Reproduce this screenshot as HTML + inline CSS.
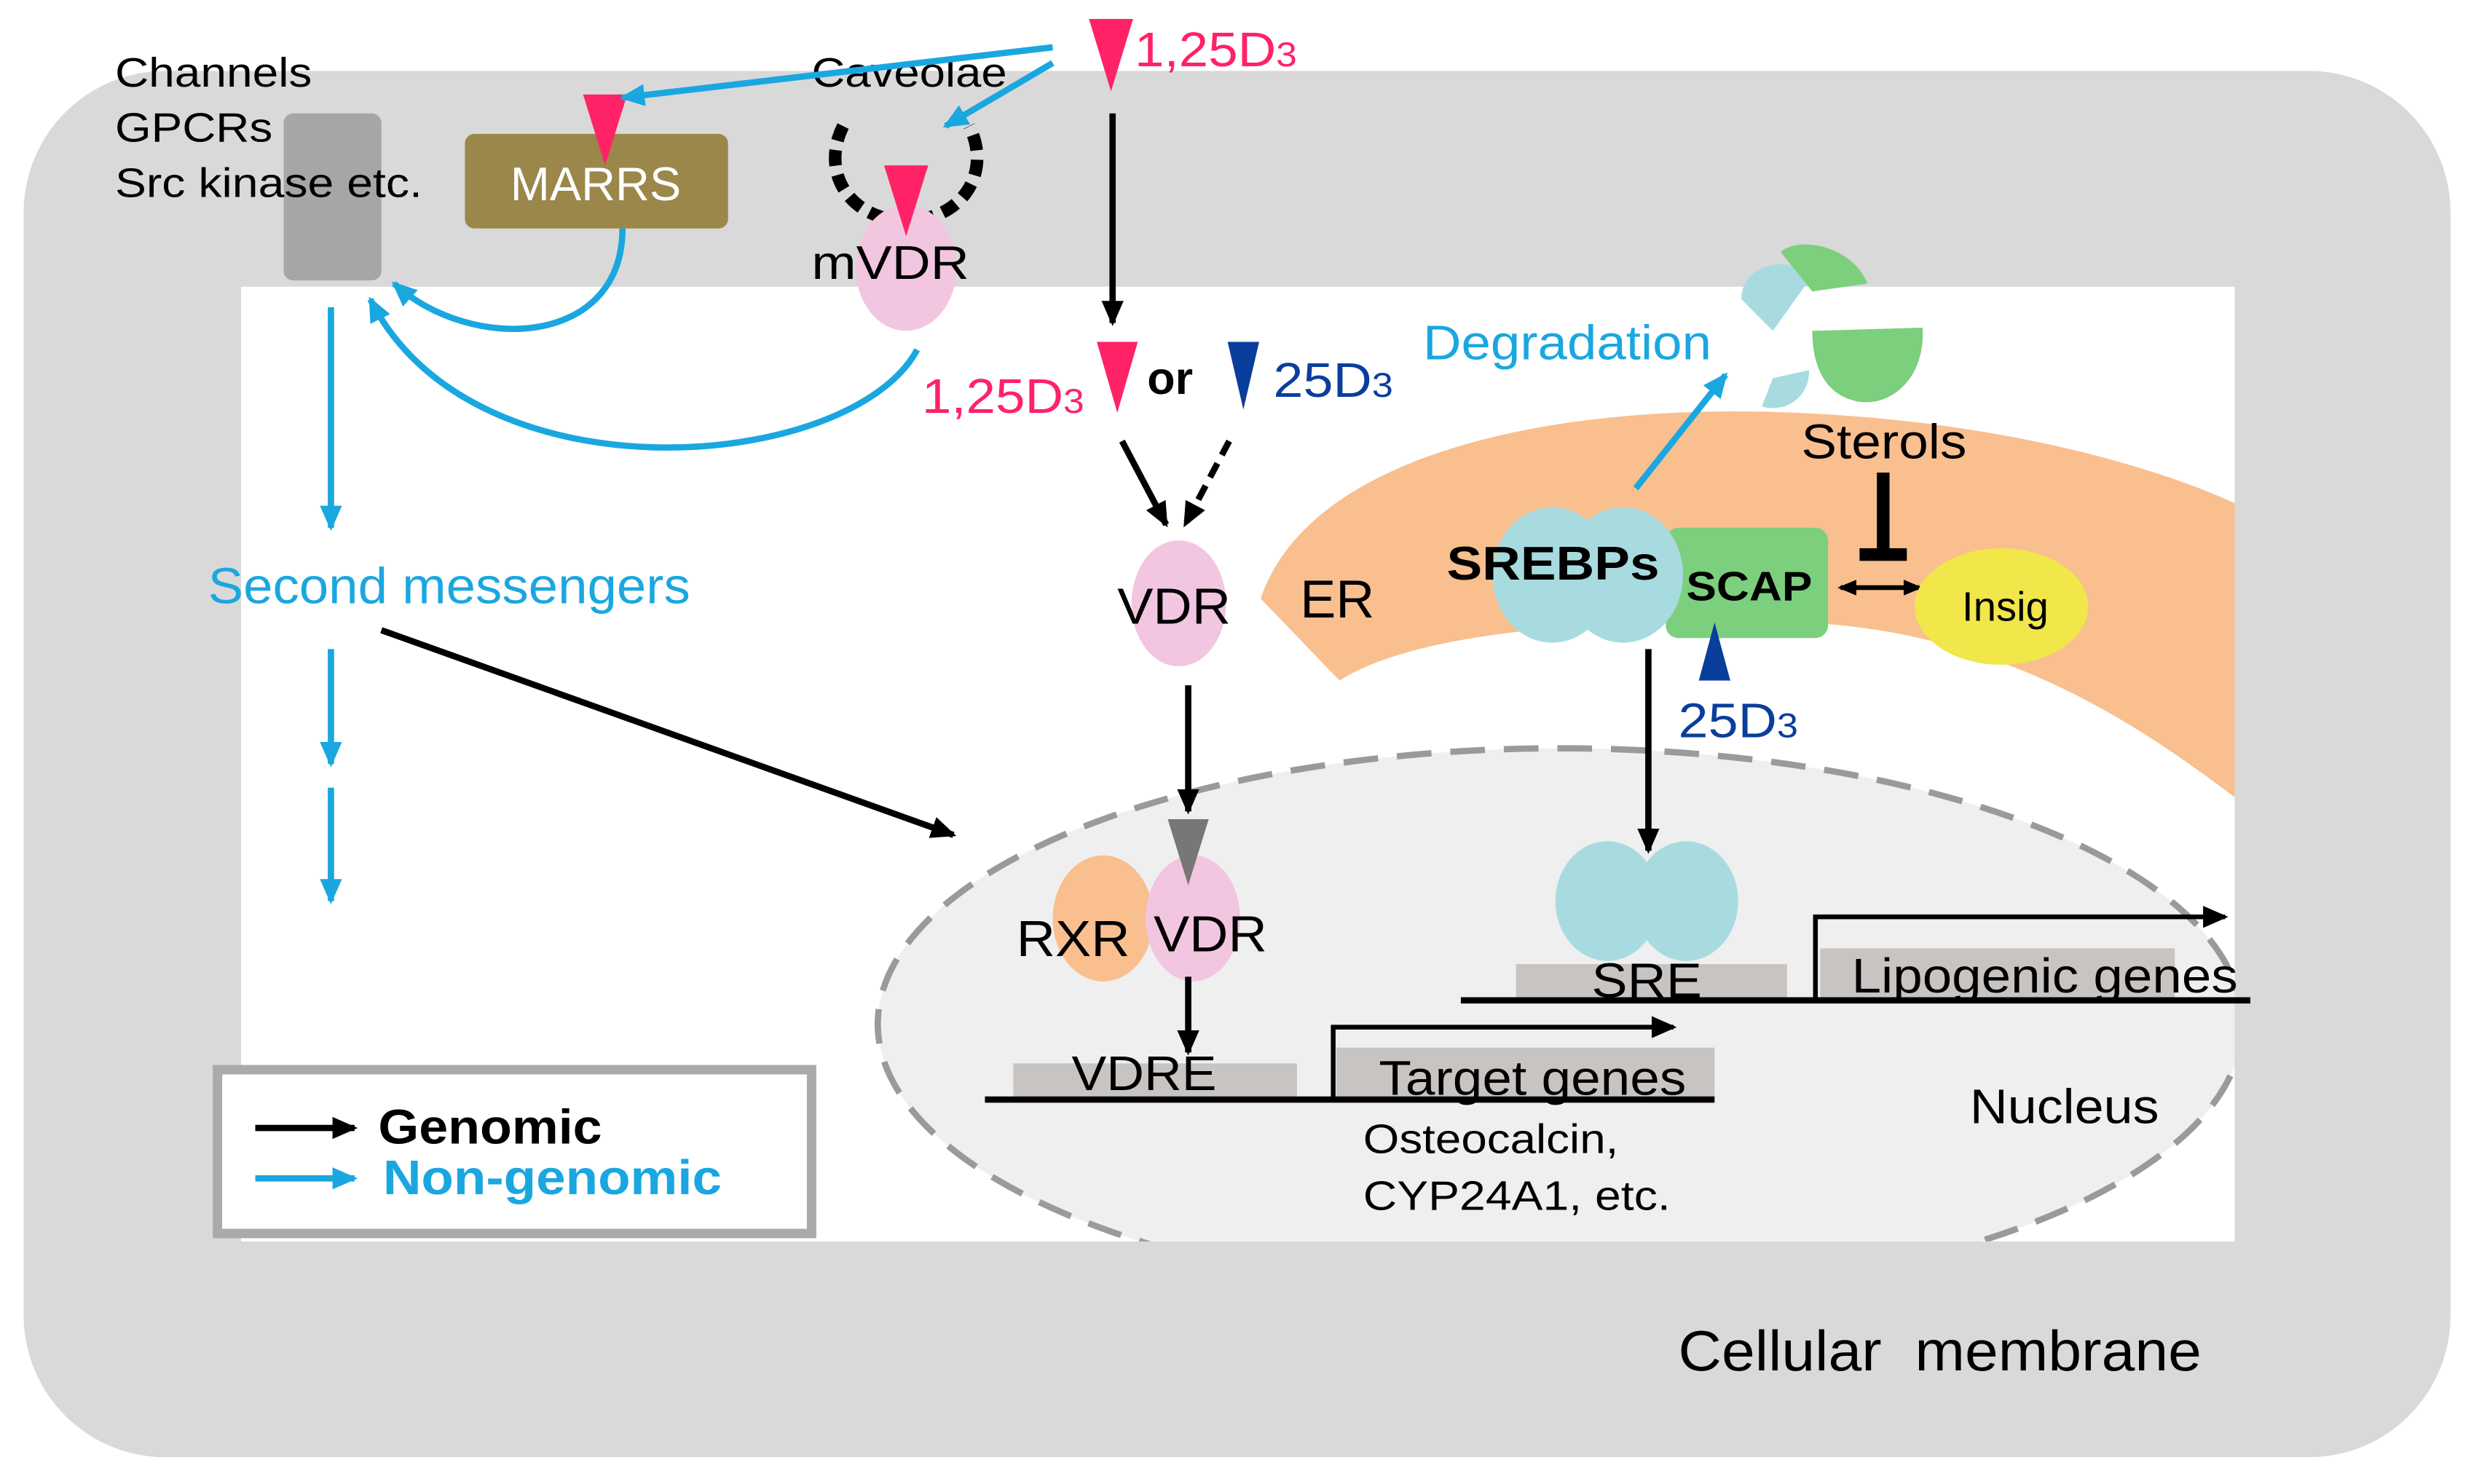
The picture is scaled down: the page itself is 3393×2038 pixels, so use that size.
<!DOCTYPE html>
<html><head><meta charset="utf-8"><style>
html,body{margin:0;padding:0;background:#fff;}
svg{display:block;}
text{font-family:"Liberation Sans",Arial,sans-serif;}
</style></head><body>
<svg width="3393" height="2038" viewBox="0 0 1568 942" preserveAspectRatio="none" xmlns="http://www.w3.org/2000/svg">
<defs>
<marker id="abk" markerWidth="16" markerHeight="14" refX="14" refY="7" orient="auto" markerUnits="userSpaceOnUse"><path d="M0,0 L16,7 L0,14 z" fill="#000"/></marker>
<marker id="as" markerWidth="12" markerHeight="10" refX="10" refY="5" orient="auto" markerUnits="userSpaceOnUse"><path d="M0,0 L12,5 L0,10 z" fill="#000"/></marker>
<marker id="ass" markerWidth="12" markerHeight="10" refX="2" refY="5" orient="auto" markerUnits="userSpaceOnUse"><path d="M12,0 L0,5 L12,10 z" fill="#000"/></marker>
<marker id="acy" markerWidth="16" markerHeight="14" refX="14" refY="7" orient="auto" markerUnits="userSpaceOnUse"><path d="M0,0 L16,7 L0,14 z" fill="#1aa7e0"/></marker>
<clipPath id="inner"><rect x="153" y="182" width="1265" height="606"/></clipPath>
</defs>
<rect width="1568" height="942" fill="#fff"/>
<rect x="15" y="45" width="1540" height="880" rx="90" fill="#d9d9d9"/>
<rect x="153" y="182" width="1265" height="606" fill="#fff"/>
<g clip-path="url(#inner)">
<path d="M800,380 C830,290 980,255 1140,262 C1280,268 1380,300 1430,325 L1430,515 C1370,470 1280,400 1140,395 C1020,392 900,400 850,432 Z" fill="#f9bf8f"/>
<ellipse cx="990" cy="650" rx="433" ry="175" fill="#efefef" stroke="#9a9a9a" stroke-width="4" stroke-dasharray="22,12"/>
</g>
<rect x="180" y="72" width="62" height="106" rx="6" fill="#a6a6a6"/>
<text x="73" y="55" font-size="26" textLength="125" lengthAdjust="spacingAndGlyphs">Channels</text>
<text x="73" y="90" font-size="26" textLength="100" lengthAdjust="spacingAndGlyphs">GPCRs</text>
<text x="73" y="125" font-size="26" textLength="195" lengthAdjust="spacingAndGlyphs">Src kinase etc.</text>
<rect x="295" y="85" width="167" height="60" rx="6" fill="#9b874a"/>
<text x="378" y="127" font-size="30" fill="#fff" text-anchor="middle">MARRS</text>
<path d="M535,80 C520,110 540,140 575,140 C610,140 630,110 615,80" fill="none" stroke="#000" stroke-width="8" stroke-dasharray="10,6"/>
<text x="515" y="55" font-size="26" textLength="124" lengthAdjust="spacingAndGlyphs">Caveolae</text>
<ellipse cx="575" cy="170" rx="32" ry="40" fill="#f2c6e0"/>
<text x="515" y="177" font-size="30" textLength="100" lengthAdjust="spacingAndGlyphs">mVDR</text>
<path d="M370,60 L398,60 L384,105 Z" fill="#ff2266"/>
<path d="M561,105 L589,105 L575,150 Z" fill="#ff2266"/>
<path d="M691,12 L719,12 L705,58 Z" fill="#ff2266"/>
<text x="720" y="42" font-size="31" fill="#ff2266" textLength="103" lengthAdjust="spacingAndGlyphs">1,25D<tspan font-size="22">3</tspan></text>
<line x1="668" y1="30" x2="395" y2="62" stroke="#1aa7e0" stroke-width="4" marker-end="url(#acy)"/>
<line x1="668" y1="40" x2="600" y2="80" stroke="#1aa7e0" stroke-width="4" marker-end="url(#acy)"/>
<path d="M395,145 C395,220 300,225 250,180" fill="none" stroke="#1aa7e0" stroke-width="4" marker-end="url(#acy)"/>
<path d="M582,222 C540,300 300,320 235,190" fill="none" stroke="#1aa7e0" stroke-width="4" marker-end="url(#acy)"/>
<line x1="210" y1="195" x2="210" y2="335" stroke="#1aa7e0" stroke-width="4" marker-end="url(#acy)"/>
<line x1="210" y1="412" x2="210" y2="485" stroke="#1aa7e0" stroke-width="4" marker-end="url(#acy)"/>
<line x1="210" y1="500" x2="210" y2="572" stroke="#1aa7e0" stroke-width="4" marker-end="url(#acy)"/>
<text x="132" y="383" font-size="32" fill="#1aa7e0" textLength="306" lengthAdjust="spacingAndGlyphs">Second messengers</text>
<line x1="242" y1="400" x2="605" y2="530" stroke="#000" stroke-width="4" marker-end="url(#abk)"/>
<line x1="706" y1="72" x2="706" y2="205" stroke="#000" stroke-width="4" marker-end="url(#abk)"/>
<path d="M696,217 L722,217 L709,262 Z" fill="#ff2266"/>
<text x="585" y="262" font-size="31" fill="#ff2266" textLength="103" lengthAdjust="spacingAndGlyphs">1,25D<tspan font-size="22">3</tspan></text>
<text x="728" y="250" font-size="29" font-weight="bold">or</text>
<path d="M779,217 L799,217 L789,260 Z" fill="#0a3e9c"/>
<text x="808" y="252" font-size="31" fill="#0a3e9c" textLength="76" lengthAdjust="spacingAndGlyphs">25D<tspan font-size="22">3</tspan></text>
<line x1="712" y1="280" x2="740" y2="333" stroke="#000" stroke-width="4" marker-end="url(#abk)"/>
<line x1="780" y1="280" x2="752" y2="333" stroke="#000" stroke-width="4" stroke-dasharray="10,6" marker-end="url(#abk)"/>
<ellipse cx="748" cy="383" rx="30" ry="40" fill="#f2c6e0"/>
<text x="709" y="396" font-size="32" textLength="72" lengthAdjust="spacingAndGlyphs">VDR</text>
<text x="825" y="392" font-size="34">ER</text>
<line x1="754" y1="435" x2="754" y2="515" stroke="#000" stroke-width="4" marker-end="url(#abk)"/>
<ellipse cx="700" cy="583" rx="32" ry="40" fill="#f9bf8f"/>
<ellipse cx="757" cy="583" rx="30" ry="40" fill="#f2c6e0"/>
<path d="M741,520 L767,520 L754,562 Z" fill="#777"/>
<text x="645" y="607" font-size="32" textLength="72" lengthAdjust="spacingAndGlyphs">RXR</text>
<text x="732" y="604" font-size="32" textLength="72" lengthAdjust="spacingAndGlyphs">VDR</text>
<line x1="754" y1="620" x2="754" y2="668" stroke="#000" stroke-width="4" marker-end="url(#abk)"/>
<rect x="643" y="675" width="180" height="22" fill="#c8c4c2"/>
<rect x="848" y="665" width="240" height="32" fill="#c8c4c2"/>
<text x="680" y="692" font-size="31" textLength="92" lengthAdjust="spacingAndGlyphs">VDRE</text>
<text x="875" y="695" font-size="31" textLength="195" lengthAdjust="spacingAndGlyphs">Target genes</text>
<line x1="625" y1="698" x2="1088" y2="698" stroke="#000" stroke-width="4"/>
<path d="M846,697 L846,652 L1062,652" fill="none" stroke="#000" stroke-width="3" marker-end="url(#abk)"/>
<text x="865" y="732" font-size="26" textLength="162" lengthAdjust="spacingAndGlyphs">Osteocalcin,</text>
<text x="865" y="768" font-size="26" textLength="195" lengthAdjust="spacingAndGlyphs">CYP24A1, etc.</text>
<text x="1250" y="713" font-size="31" textLength="120" lengthAdjust="spacingAndGlyphs">Nucleus</text>
<text x="903" y="228" font-size="31" fill="#1aa7e0" textLength="183" lengthAdjust="spacingAndGlyphs">Degradation</text>
<line x1="1038" y1="310" x2="1095" y2="238" stroke="#1aa7e0" stroke-width="4" marker-end="url(#acy)"/>
<path d="M1105,190 C1105,170 1130,160 1150,175 L1125,210 Z" fill="#a8dbe0"/>
<path d="M1130,160 C1140,150 1175,155 1185,180 L1150,185 Z" fill="#7ccf7c"/>
<path d="M1150,210 L1220,208 C1222,240 1200,258 1180,255 C1160,252 1150,235 1150,210 Z" fill="#7ccf7c"/>
<path d="M1125,240 L1148,235 C1148,255 1130,262 1118,258 Z" fill="#a8dbe0"/>
<text x="1143" y="291" font-size="31" textLength="105" lengthAdjust="spacingAndGlyphs">Sterols</text>
<line x1="1195" y1="300" x2="1195" y2="350" stroke="#000" stroke-width="8"/>
<line x1="1180" y1="352" x2="1210" y2="352" stroke="#000" stroke-width="8"/>
<rect x="1057" y="335" width="103" height="70" rx="8" fill="#7ccf7c"/>
<ellipse cx="985" cy="365" rx="38" ry="43" fill="#a8dbe0"/>
<ellipse cx="1030" cy="365" rx="38" ry="43" fill="#a8dbe0"/>
<text x="918" y="368" font-size="30" font-weight="bold" textLength="135" lengthAdjust="spacingAndGlyphs">SREBPs</text>
<text x="1070" y="381" font-size="26" font-weight="bold" textLength="80" lengthAdjust="spacingAndGlyphs">SCAP</text>
<line x1="1168" y1="373" x2="1218" y2="373" stroke="#000" stroke-width="3" marker-end="url(#as)" marker-start="url(#ass)"/>
<ellipse cx="1270" cy="385" rx="55" ry="37" fill="#f1e64a"/>
<text x="1245" y="394" font-size="26">Insig</text>
<path d="M1078,432 L1098,432 L1088,395 Z" fill="#0a3e9c"/>
<text x="1065" y="468" font-size="31" fill="#0a3e9c" textLength="76" lengthAdjust="spacingAndGlyphs">25D<tspan font-size="22">3</tspan></text>
<line x1="1046" y1="412" x2="1046" y2="540" stroke="#000" stroke-width="4" marker-end="url(#abk)"/>
<ellipse cx="1020" cy="572" rx="33" ry="38" fill="#a8dbe0"/>
<ellipse cx="1070" cy="572" rx="33" ry="38" fill="#a8dbe0"/>
<rect x="962" y="612" width="172" height="22" fill="#c8c4c2"/>
<rect x="1155" y="602" width="225" height="32" fill="#c8c4c2"/>
<text x="1010" y="633" font-size="31" textLength="70" lengthAdjust="spacingAndGlyphs">SRE</text>
<text x="1175" y="630" font-size="31" textLength="245" lengthAdjust="spacingAndGlyphs">Lipogenic genes</text>
<line x1="927" y1="635" x2="1428" y2="635" stroke="#000" stroke-width="4"/>
<path d="M1152,634 L1152,582 L1412,582" fill="none" stroke="#000" stroke-width="3" marker-end="url(#abk)"/>
<rect x="138" y="679" width="377" height="104" fill="#fff" stroke="#aaa" stroke-width="6"/>
<line x1="162" y1="716" x2="225" y2="716" stroke="#000" stroke-width="4" marker-end="url(#abk)"/>
<line x1="162" y1="748" x2="225" y2="748" stroke="#1aa7e0" stroke-width="4" marker-end="url(#acy)"/>
<text x="240" y="726" font-size="31" font-weight="bold" textLength="142" lengthAdjust="spacingAndGlyphs">Genomic</text>
<text x="243" y="758" font-size="31" font-weight="bold" fill="#1aa7e0" textLength="215" lengthAdjust="spacingAndGlyphs">Non-genomic</text>
<text x="1065" y="870" font-size="36" textLength="332" lengthAdjust="spacingAndGlyphs" xml:space="preserve">Cellular  membrane</text>
</svg>
</body></html>
